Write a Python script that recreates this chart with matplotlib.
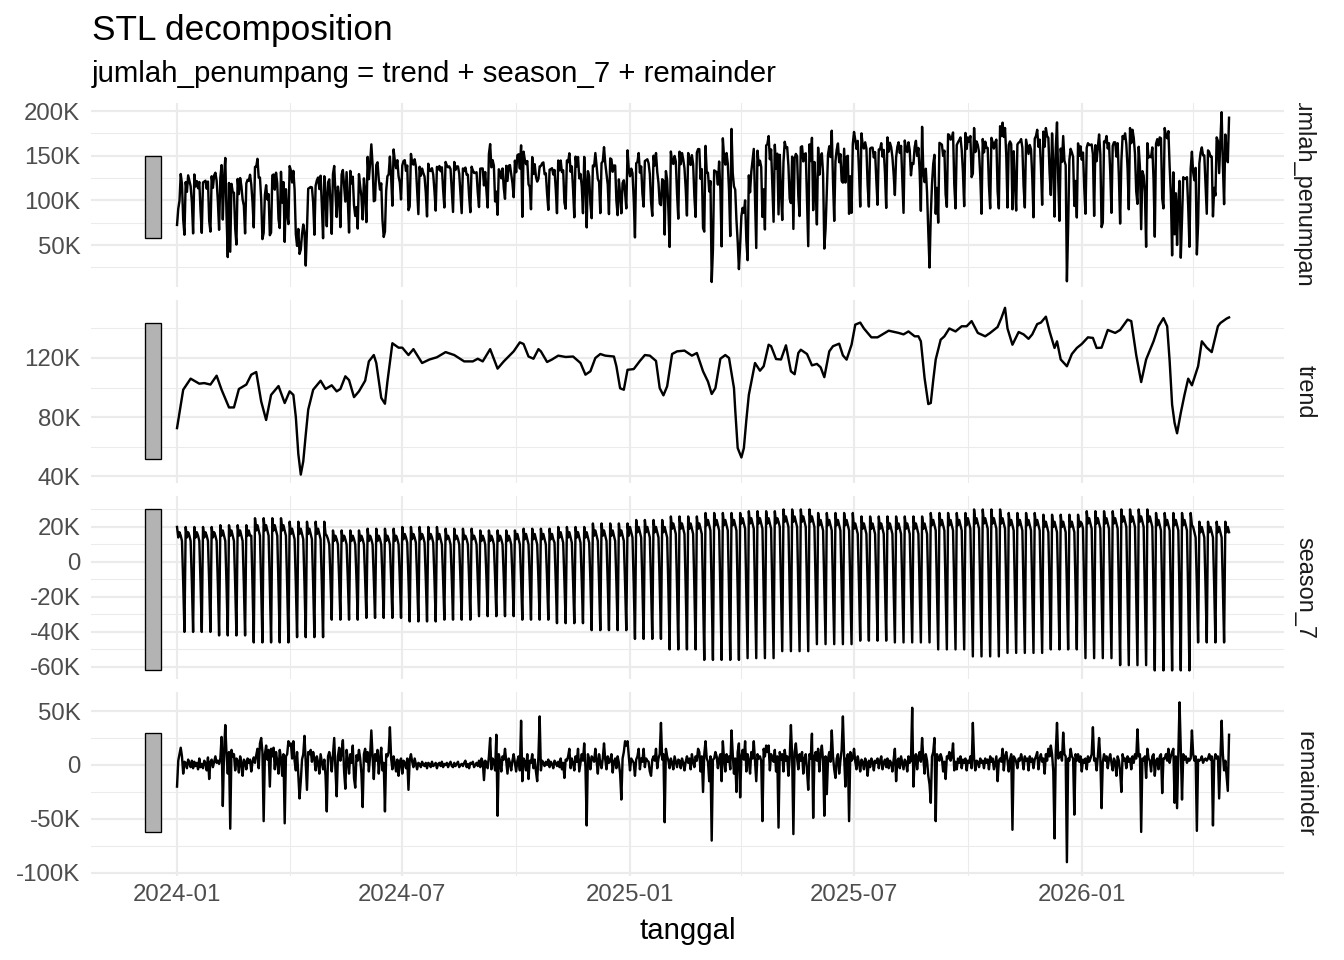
import matplotlib
matplotlib.use("Agg")
import matplotlib.pyplot as plt
import matplotlib.dates as mdates
from matplotlib.ticker import FixedLocator, FuncFormatter
from matplotlib.transforms import Bbox, TransformedBbox
import numpy as np
import pandas as pd

plt.rcParams['font.family'] = ['Liberation Sans', 'DejaVu Sans']

# ---- data (values in thousands of passengers) ----
start_date = "2024-01-01"

# trend: day offset from start_date -> value (K)
trend_day = [0, 5, 11, 18, 22, 27, 32, 36, 42, 46, 50, 56, 60, 64, 68, 72, 76, 82, 87, 91,
             94, 96, 98, 100, 102, 104, 106, 110, 116, 120, 125, 129, 132, 136, 139, 143, 147, 152, 155, 159,
             161, 165, 168, 170, 174, 179, 182, 187, 191, 198, 204, 210, 217, 224, 232, 239, 243, 247, 253, 259,
             264, 272, 277, 280, 284, 288, 292, 294, 299, 303, 308, 314, 320, 326, 330, 334, 338, 342, 346, 353,
             355, 358, 361, 364, 369, 374, 378, 382, 387, 390, 393, 396, 400, 404, 410, 416, 420, 425, 429, 432,
             435, 439, 443, 446, 450, 451, 453, 456, 458, 460, 462, 467, 471, 474, 478, 480, 484, 488, 492, 496,
             499, 502, 504, 509, 513, 517, 520, 523, 527, 530, 535, 538, 541, 545, 548, 552, 555, 561, 566, 575,
             583, 587, 591, 596, 599, 601, 604, 607, 609, 611, 613, 617, 620, 624, 629, 634, 638, 642, 647, 653,
             657, 663, 666, 669, 671, 675, 680, 684, 688, 691, 695, 698, 702, 705, 709, 711, 714, 719, 723, 727,
             731, 736, 740, 743, 747, 752, 758, 762, 768, 771, 775, 779, 783, 789, 793, 797, 800, 802, 804, 806,
             808, 811, 814, 817, 820, 825, 828, 832, 836, 841, 843, 848, 850]
trend_k = [72.5, 98.5, 106, 102.6, 103, 102, 108, 98.5, 86.5, 86.5, 99, 102, 108.7, 110.5, 90.6, 78, 95, 101, 89.5, 97.4,
           95, 80, 55, 41, 50, 68, 85, 98.5, 104.6, 99, 101.5, 97.4, 99, 107.6, 105, 93.5, 97.4, 104.6, 117.7, 122,
           116.6, 93, 89, 104, 130, 127, 127, 122, 126, 116.6, 119, 120.5, 124, 122, 117.7, 117.7, 119.5, 117.7, 126, 112.8,
           117.7, 124.5, 130.6, 129.5, 121, 119.5, 126, 124.5, 117.3, 119, 121.6, 120.7, 121, 116.6, 108.7, 111, 120, 122.7, 121.6, 121,
           114.4, 99.5, 98.5, 112, 112.5, 118, 122, 121.6, 118, 99.6, 94.7, 100.8, 122.7, 124.5, 125, 121.6, 123.4, 111, 104, 95.6,
           99.6, 119.5, 122, 120, 99.6, 85, 59, 52.6, 59, 78, 95, 116.6, 111.4, 114.4, 129, 128, 119.3, 119, 128.6, 111,
           109, 123.4, 125.6, 122.7, 115, 116, 113.7, 107, 124.5, 128, 129.7, 121.8, 118.9, 129, 142.6, 144, 140, 134, 134, 138.5,
           137, 136, 138, 134.7, 134.7, 131.3, 106.4, 88.8, 89.5, 105, 119, 132.4, 134.7, 140, 138, 141.5, 141.5, 145, 137, 134.7,
           137, 141, 147, 154, 140, 129, 137.6, 136, 133, 136, 143, 144, 148, 138, 126.8, 131.3, 119, 114.4, 122.7, 126.8,
           129.5, 134, 133.6, 126.8, 127, 139, 137, 139, 146, 145, 122, 103.7, 119, 131.3, 141.5, 147, 141.5, 118, 88.4, 76,
           69, 82.8, 95, 106, 101.5, 114.4, 131.3, 127, 124, 141.5, 143.7, 146.7, 147.5]

# weekly seasonal shape (Mon..Sun) for each month, Jan 2024 .. Apr 2026
season_profile = [
    [20, 14, 17, 15, 12, -12, -40],
    [21, 15, 18, 15, 12, -13, -42],
    [25, 18, 21, 18, 15, -14, -46],
    [23, 16, 19, 16, 13, -13, -43],
    [18, 12, 15, 13, 10, -10, -33],
    [19, 12, 15, 13, 10, -10, -32],
    [20, 13, 16, 14, 11, -10, -34],
    [19, 13, 15, 13, 10, -10, -33],
    [18, 12, 15, 13, 10, -9, -31],
    [19, 13, 16, 13, 10, -10, -33],
    [20, 14, 17, 14, 11, -11, -35],
    [22, 15, 18, 15, 12, -12, -39],
    [24, 17, 20, 17, 14, -13, -44],
    [26, 19, 22, 19, 16, -15, -50],
    [28, 21, 24, 21, 18, -17, -56],
    [29, 22, 25, 22, 19, -17, -55],
    [30, 23, 26, 23, 20, -15, -51],
    [28, 21, 24, 21, 18, -14, -47],
    [26, 19, 22, 19, 16, -13, -45],
    [26, 19, 22, 19, 16, -14, -46],
    [28, 21, 24, 21, 18, -15, -50],
    [30, 22, 25, 22, 19, -16, -54],
    [28, 21, 24, 21, 18, -16, -52],
    [27, 20, 23, 20, 17, -15, -50],
    [29, 22, 25, 22, 19, -17, -55],
    [30, 23, 26, 23, 20, -18, -59],
    [28, 21, 24, 21, 18, -19, -62],
    [23, 17, 20, 17, 14, -14, -46],
]

# daily remainder, one row per week starting Monday 2024-01-01
remainder_weeks = [
    [-20, 4, 10, 16, 8, -8, 3], [2, -3, 5, 1, -2, 4, -3], [3, -1, 2, -4, 6, -2, 1],
    [-3, 4, 2, -5, 7, -13, 3], [5, -2, 3, 8, 2, 4, 1], [6, 26, -38, 12, 37, 10, -8],
    [12, -59, 14, 8, 10, -5, 6], [4, -7, 8, 2, -10, 5, 3], [-4, 6, 2, 5, -6, 3, 7],
    [2, 9, 15, -3, 20, 25, 12], [-52, 10, 18, 5, 14, -20, 15], [8, 16, -4, 12, 3, -8, 14],
    [6, -10, 10, -54, 8, 10, 22], [18, 20, 6, 22, 4, -5, 12], [-10, -31, -15, 5, 10, 27, 2],
    [-23, 12, 10, 14, 3, 12, 6], [-5, 8, 2, -8, 10, 3, -4], [5, -10, -43, 8, 12, 6, -6],
    [10, 25, -4, -29, 8, 16, 4], [12, 23, -6, -22, 14, 5, -8], [10, 2, 18, -12, -21, 9, 4],
    [14, 6, -8, -39, 10, 15, 3], [12, -6, 8, 32, 8, -13, 10], [4, 14, -8, 6, 16, -5, 2],
    [-43, 10, 8, 12, 35, 6, -4], [8, 2, -6, 5, -10, 3, 6], [-8, 4, 2, -3, 6, -23, 5],
    [10, 3, -2, 6, 1, -4, 2], [1, -2, 3, 0, -1, 2, -3], [2, 1, -2, 3, -1, 0, 2],
    [-3, 1, 2, -1, 3, -2, 1], [0, 2, -2, 1, 3, -1, -2], [2, -1, 1, 3, -2, 0, 1],
    [-1, 2, 4, -2, 1, -3, 2], [1, 3, -2, 0, 2, -1, 4], [-2, 6, 3, -14, 4, 2, -3],
    [8, 25, -4, 6, 3, -5, 28], [-47, 10, 4, -6, 8, 5, 15], [3, -8, 6, 2, -5, 4, 10],
    [2, -6, 4, 8, -5, 41, -15], [6, 3, -5, 10, -13, 4, 2], [10, -3, 5, -6, -15, 8, 45],
    [-5, 4, 2, -1, 3, 0, 5], [-2, 3, 1, -3, 4, 2, -1], [3, -2, 6, -4, 2, -12, 5],
    [4, 8, 15, -3, 6, 2, -5], [8, 3, 15, -6, 2, 10, 4], [20, -2, -56, 10, 5, -4, 8],
    [6, 3, 15, 4, -8, 10, 2], [-3, 6, 20, 5, -4, 8, 2], [4, 10, -7, 3, 6, -3, 8],
    [2, -8, -32, 6, 12, 22, 18], [22, 8, -5, 6, 4, 2, -10], [5, 8, 15, -4, 6, 3, 15],
    [-2, 6, 4, 3, -6, -10, 5], [8, 4, 15, -3, 6, 10, 39], [5, 10, -53, 15, 8, 4, -3],
    [6, 2, -4, 8, 3, -2, 5], [4, -3, 6, 2, -5, 3, 8], [2, 6, -4, 10, 3, -2, 8],
    [4, 15, 12, -6, 8, -25, 10], [22, 6, 3, -15, 8, -70, 5], [6, 12, 8, -3, 6, 10, -15],
    [22, 5, -6, 10, 3, 8, -4], [32, 10, -8, 6, -25, 12, 20], [-30, 8, 14, 5, 22, -6, 10],
    [4, -8, 12, 6, 22, 3, -15], [10, 6, 8, 4, -52, 15, 8], [18, 12, 18, -5, 10, 6, 3],
    [14, -6, 8, -58, 12, 5, 10], [-6, 14, 4, 8, -10, 6, 37], [8, -64, 12, 20, 6, -4, 10],
    [4, 12, -8, 6, 10, -5, -23], [10, 6, 29, -49, 8, 12, 4], [15, -6, 10, 18, 4, -47, 8],
    [-27, 6, 12, 3, 32, 8, -4], [-12, 6, 10, -8, 4, 14, 45], [8, -20, 6, 10, -52, 12, 4],
    [6, 15, 3, -4, 8, 2, -6], [5, 3, -4, 6, 2, -10, 4], [-2, 6, 3, -5, 4, 2, 6],
    [-3, 4, 8, -4, 2, 5, -2], [6, -3, 4, 2, -6, 5, 15], [-15, 4, 6, -3, 8, 2, -4],
    [5, 3, -6, 8, 2, 4, 53], [-20, 6, 10, -4, 8, 12, 3], [25, 6, -8, 10, 4, -10, -18],
    [-35, 8, 12, 25, -52, 10, 6], [4, 10, 6, -6, 3, -13, 8], [6, 12, 4, 8, 20, -5, 3],
    [-4, 6, 2, 8, -3, 5, 2], [6, -5, 4, 2, 8, -3, 39], [6, -5, 4, 3, -2, 6, 2],
    [4, -3, 6, 2, 5, -4, 8], [3, 6, -4, 2, 8, -15, 4], [6, 3, 15, -5, 8, 12, 4],
    [-6, 5, 10, -60, 8, 6, 3], [-3, 6, 4, 10, 5, -4, 8], [4, 6, -5, 8, 3, 6, -3],
    [5, 8, 12, -4, 6, 10, 3], [6, -8, 10, 4, 15, 8, 18], [10, -6, -68, 12, 39, 6, 8],
    [12, 4, 30, 10, 8, -90, 6], [4, 15, 8, 6, -46, 10, 4], [10, 3, 8, -6, 5, 2, 6],
    [-4, 8, 3, 6, 10, 35, 4], [6, -5, 8, 25, 6, -40, 3], [10, 4, 8, -3, 6, 10, 2],
    [-5, 6, 3, -10, 8, 4, -6], [-25, 10, 4, 6, -3, 8, 3], [6, -4, 8, 2, 10, 6, 33],
    [8, 10, -62, 6, 4, 8, -12], [15, 6, 4, -6, 8, 10, -10], [4, 6, -4, 8, 10, -26, 6],
    [6, 10, 4, 15, 2, 8, 12], [15, -35, 8, -40, 10, 58, 15], [-32, 10, 5, 8, 2, 6, 4],
    [6, 32, 10, 4, 8, -61, 5], [4, 5, 8, 2, 5, 6, 4], [6, 10, 5, 8, -56, 4, 10],
    [6, 8, -31, 6, 41, 10, -5], [4, -10, -24, 28],
]

panel_names = ["jumlah_penumpang", "trend", "season_7", "remainder"]

# ---- assemble components ----
remainder = np.concatenate([np.array(w, dtype=float) for w in remainder_weeks])
dates = pd.date_range(start_date, periods=len(remainder), freq="D")
t0 = pd.Timestamp(start_date)

tday = np.array(trend_day)
tk = np.array(trend_k, dtype=float)
trend_dates = t0 + pd.to_timedelta(tday, unit="D")
days = np.arange(len(remainder))
nearest = np.abs(days[:, None] - tday[None, :]).argmin(axis=1)
trend_daily = tk[nearest]

sp = np.array(season_profile, dtype=float)
month_idx = (dates.year - 2024) * 12 + dates.month - 1
season = sp[month_idx, dates.dayofweek]

observed = trend_daily + season + remainder

series = [(dates, observed), (trend_dates, tk), (dates, season), (dates, remainder)]

# scale bars: same height in every panel (smallest component range)
ranges = [s.max() - s.min() for _, s in series]
bar_h = min(ranges)

# ---- figure ----
W, H = 1344, 960
fig = plt.figure(figsize=(W / 96, H / 96), dpi=96)
fig.patch.set_facecolor("white")

left_px, right_px = 91, 1284
tops = [103, 300, 496, 692]
bots = [287, 483, 679, 876]
ylims = [(3, 209), (35.3, 159.3), (-66.9, 37.7), (-102.8, 67.6)]
majors = [[50, 100, 150, 200], [40, 80, 120], [-60, -40, -20, 0, 20], [-100, -50, 0, 50]]
minors = [[25, 75, 125, 175], [60, 100, 140], [-50, -30, -10, 10, 30], [-75, -25, 25]]

xlim = (t0 - pd.Timedelta(days=69.5), t0 + pd.Timedelta(days=894.4))
grid_col = "#EBEBEB"

def kfmt(v, pos):
    return "0" if v == 0 else f"{v:.0f}K"

for i, (xd, yd) in enumerate(series):
    ax = fig.add_axes([left_px / W, 1 - bots[i] / H, (right_px - left_px) / W, (bots[i] - tops[i]) / H])
    ax.set_facecolor("white")
    for sp_ in ax.spines.values():
        sp_.set_visible(False)
    ax.plot(xd, yd, color="black", lw=1.8, zorder=3, solid_joinstyle="round")

    mid = (yd.max() + yd.min()) / 2
    ax.bar(t0 - pd.Timedelta(days=25.9), bar_h, width=13, bottom=mid - bar_h / 2, align="edge",
           color="#B3B3B3", edgecolor="black", linewidth=1.0, zorder=3)

    ax.set_xlim(xlim)
    ax.set_ylim(ylims[i])
    ax.xaxis.set_major_locator(mdates.MonthLocator(bymonth=[1, 7]))
    ax.xaxis.set_minor_locator(mdates.MonthLocator(bymonth=[4, 10]))
    ax.xaxis.set_major_formatter(mdates.DateFormatter("%Y-%m"))
    ax.yaxis.set_major_locator(FixedLocator(majors[i]))
    ax.yaxis.set_minor_locator(FixedLocator(minors[i]))
    ax.yaxis.set_major_formatter(FuncFormatter(kfmt))
    ax.grid(which="major", color=grid_col, lw=1.6, zorder=0)
    ax.grid(which="minor", color=grid_col, lw=0.8, zorder=0)
    ax.set_axisbelow(True)
    ax.tick_params(which="both", length=0)
    ax.tick_params(axis="y", labelsize=18, labelcolor="#4D4D4D", pad=8)
    ax.tick_params(axis="x", labelsize=18, labelcolor="#4D4D4D", pad=6,
                   labelbottom=(i == len(series) - 1))

    # strip label on the right, clipped to the panel height
    yc = 1 - (tops[i] + bots[i]) / 2 / H
    t = fig.text(1305 / W, yc, panel_names[i], rotation=-90, ha="center", va="center",
                 fontsize=17.6, color="#1A1A1A")
    clip = TransformedBbox(Bbox([[1288 / W, 1 - bots[i] / H], [1330 / W, 1 - tops[i] / H]]), fig.transFigure)
    t.set_clip_box(clip)
    t.set_clip_on(True)

fig.text(92 / W, 1 - 40 / H, "STL decomposition", fontsize=26.4, color="black", va="baseline", ha="left")
fig.text(92 / W, 1 - 82 / H, "jumlah_penumpang = trend + season_7 + remainder", fontsize=22,
         color="black", va="baseline", ha="left")
fig.text((left_px + right_px) / 2 / W, 1 - 939 / H, "tanggal", fontsize=22, color="black",
         va="baseline", ha="center")

fig.savefig("out.png", dpi=96, facecolor="white")
